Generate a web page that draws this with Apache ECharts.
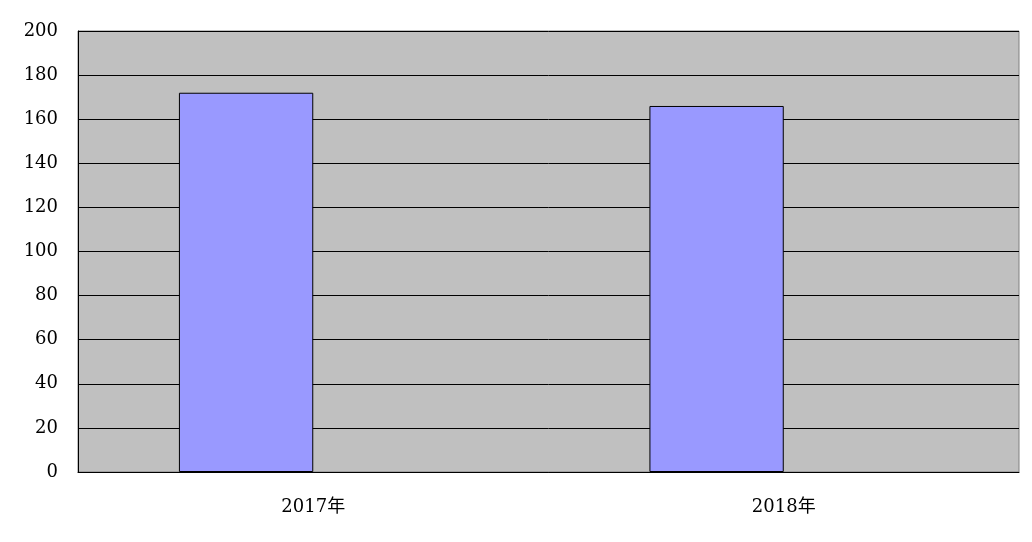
<!DOCTYPE html>
<html>
<head>
<meta charset="utf-8">
<script src="https://cdn.jsdelivr.net/npm/echarts@6/dist/echarts.min.js"></script>
<style>html,body{margin:0;padding:0;background:#fff;}#c{width:1032px;height:542px;}</style>
</head>
<body>
<div id="c"></div>
<script>
const categories = ['2017年', '2018年'];
const values = [172, 166];
const emptySeries = [null, null];
const yMin = 0, yMax = 200, yInterval = 20;

const chart = echarts.init(document.getElementById('c'), null, {renderer: 'canvas'});
const font = '"DejaVu Serif", "Noto Sans CJK SC", serif';
chart.setOption({
  animation: false,
  backgroundColor: '#ffffff',
  grid: {
    left: 78, right: 13, top: 31, bottom: 70,
    show: true, backgroundColor: '#c0c0c0', borderColor: '#808080', borderWidth: 1
  },
  xAxis: {
    type: 'category',
    data: categories,
    axisLine: {show: true, lineStyle: {color: '#000', width: 1}},
    axisTick: {show: false},
    axisLabel: {color: '#000', fontSize: 18, fontFamily: font, margin: 26}
  },
  yAxis: {
    type: 'value',
    min: yMin, max: yMax, interval: yInterval,
    axisLine: {show: true, lineStyle: {color: '#000', width: 1}},
    axisTick: {show: false},
    axisLabel: {color: '#000', fontSize: 18, fontFamily: font, margin: 20, padding: [5, 0, 0, 0]},
    splitLine: {show: true, lineStyle: {color: '#000', width: 1}}
  },
  series: [{
    type: 'bar',
    data: values,
    barGap: '0%',
    barCategoryGap: '42.9%',
    itemStyle: {color: '#9999ff', borderColor: '#000', borderWidth: 1}
  }, {
    type: 'bar',
    data: emptySeries,
    itemStyle: {color: '#993366', borderColor: '#000', borderWidth: 1}
  }]
});
</script>
</body>
</html>
